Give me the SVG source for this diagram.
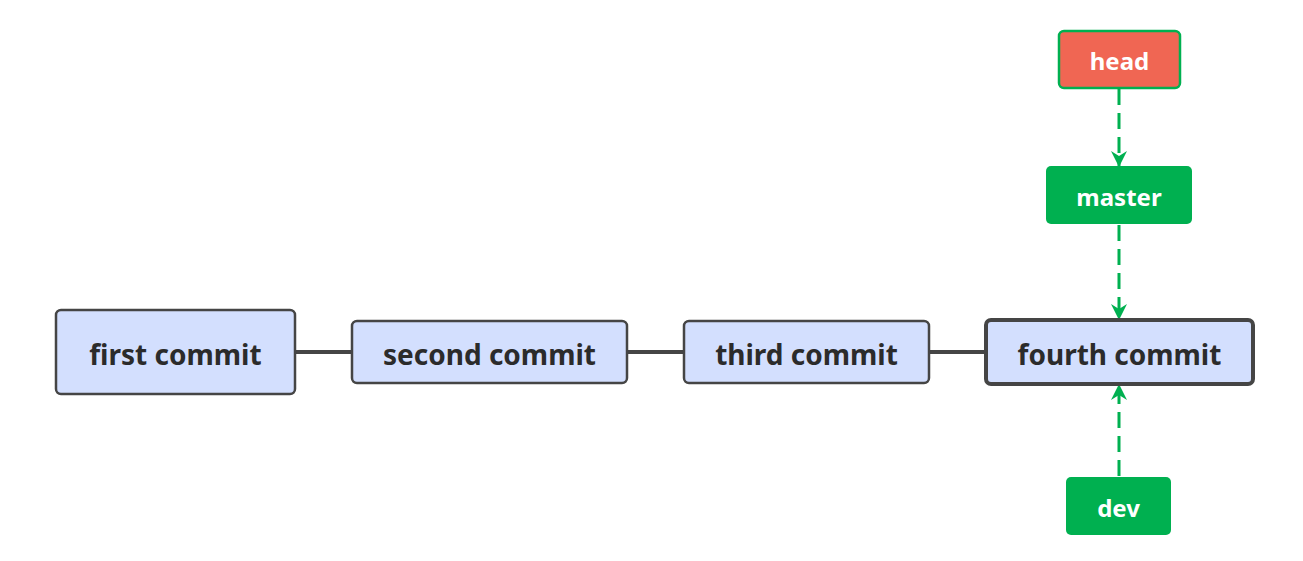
<svg xmlns="http://www.w3.org/2000/svg" width="1303" height="561" viewBox="0 0 1303 561">
<style>
.commit rect{fill:#D3DFFE;stroke:#454545;stroke-width:2.5}
.commit text{font-family:"Noto Sans","Open Sans",sans-serif;font-weight:bold;font-size:28px;fill:#2B2B2B;text-anchor:middle;dominant-baseline:central}
.ref rect{fill:#00B050}
.ref text{font-family:"Noto Sans","Open Sans",sans-serif;font-weight:bold;font-size:24px;fill:#FFFFFF;text-anchor:middle;dominant-baseline:central}
.solid{stroke:#454545;stroke-width:4;fill:none}
.dash{stroke:#00B050;stroke-width:3;fill:none;stroke-dasharray:16 8}
</style>
<defs>
<marker id="arr" markerWidth="16" markerHeight="16" viewBox="0 0 16 16" refX="15" refY="8" orient="auto" markerUnits="userSpaceOnUse">
<path d="M0,0 L16,8 L0,16 L5,8 Z" fill="#00B050"/>
</marker>
</defs>
<g id="connectors">
<line class="solid" x1="295" y1="352" x2="352" y2="352"/>
<line class="solid" x1="627" y1="352" x2="684" y2="352"/>
<line class="solid" x1="929" y1="352" x2="986" y2="352"/>
<line class="dash" x1="1119" y1="89" x2="1119" y2="166" marker-end="url(#arr)"/>
<line class="dash" x1="1119" y1="225" x2="1119" y2="319" marker-end="url(#arr)"/>
<line class="dash" x1="1119" y1="476" x2="1119" y2="385" marker-end="url(#arr)"/>
</g>
<g id="first" class="commit">
<rect x="56" y="310" width="239" height="84" rx="5"/>
<text x="175.5" y="354">first commit</text>
</g>
<g id="second" class="commit">
<rect x="352" y="321" width="275" height="62" rx="5"/>
<text x="489.5" y="354">second commit</text>
</g>
<g id="third" class="commit">
<rect x="684" y="321" width="245" height="62" rx="5"/>
<text x="806.5" y="354">third commit</text>
</g>
<g id="fourth" class="commit">
<rect x="986" y="320" width="267" height="64" rx="5" style="stroke-width:4"/>
<text x="1119.5" y="354">fourth commit</text>
</g>
<g id="head" class="ref">
<rect x="1059" y="31" width="121" height="57" rx="5" style="fill:#F06653;stroke:#00B050;stroke-width:2.5"/>
<text x="1119.5" y="60.5">head</text>
</g>
<g id="master" class="ref">
<rect x="1046" y="166" width="146" height="58" rx="5"/>
<text x="1119" y="196">master</text>
</g>
<g id="dev" class="ref">
<rect x="1066" y="477" width="105" height="58" rx="5"/>
<text x="1118.5" y="507">dev</text>
</g>
</svg>
